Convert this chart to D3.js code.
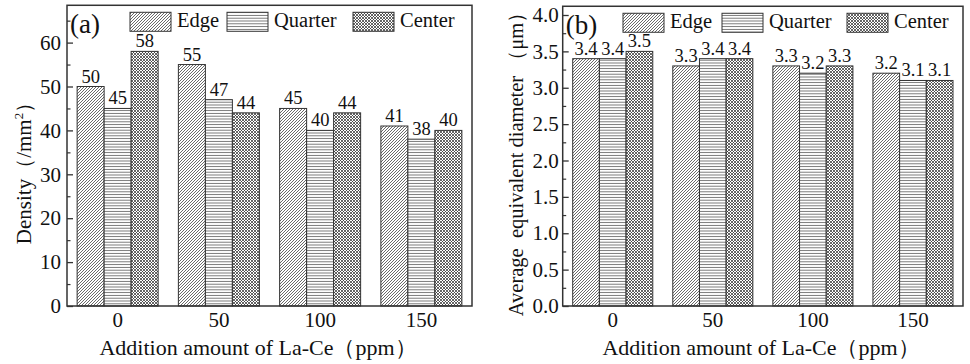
<!DOCTYPE html>
<html><head><meta charset="utf-8">
<script src="https://cdn.jsdelivr.net/npm/d3@7"></script>
<style>
body{margin:0;background:#fff;}
svg{display:block;font-family:"Liberation Serif","Times New Roman",serif;}
</style></head>
<body><svg id="c" width="970" height="364"></svg>
<script>
const categories = ["0","50","100","150"];
const seriesNames = ["Edge","Quarter","Center"];
const densityEdge = [50,55,45,41];
const densityQuarter = [45,47,40,38];
const densityCenter = [58,44,44,40];
const diamEdge = [3.4,3.3,3.3,3.2];
const diamQuarter = [3.4,3.4,3.2,3.1];
const diamCenter = [3.5,3.4,3.3,3.1];
const densityTicks = [0,10,20,30,40,50,60];
const densityMinor = [5,15,25,35,45,55,65];
const diamTicks = [0,0.5,1.0,1.5,2.0,2.5,3.0,3.5,4.0];
const diamMinor = [0.25,0.75,1.25,1.75,2.25,2.75,3.25,3.75];
const densityLabels = ["50","45","58","55","47","44","45","40","44","41","38","40"];
const diamLabels = ["3.4","3.4","3.5","3.3","3.4","3.4","3.3","3.2","3.3","3.2","3.1","3.1"];

const svg = d3.select("#c");
const defs = svg.append("defs");
const pe = defs.append("pattern").attr("id","pEdge").attr("patternUnits","userSpaceOnUse")
  .attr("width",3).attr("height",3);
pe.append("rect").attr("width",3).attr("height",3).attr("fill","#fff");
pe.append("path").attr("d","M-1,1 L1,-1 M0,3 L3,0 M2,4 L4,2").attr("stroke","#444").attr("stroke-width",0.8);
const pq = defs.append("pattern").attr("id","pQuarter").attr("patternUnits","userSpaceOnUse")
  .attr("width",4).attr("height",2.8);
pq.append("rect").attr("width",4).attr("height",2.8).attr("fill","#fff");
pq.append("path").attr("d","M0,1.4 L4,1.4").attr("stroke","#555").attr("stroke-width",0.8);
const pc = defs.append("pattern").attr("id","pCenter").attr("patternUnits","userSpaceOnUse")
  .attr("width",3).attr("height",3);
pc.append("rect").attr("width",3).attr("height",3).attr("fill","#fff");
pc.append("path").attr("d","M-1,1 L1,-1 M0,3 L3,0 M2,4 L4,2 M-1,2 L1,4 M0,0 L3,3 M2,-1 L4,1")
  .attr("stroke","#333").attr("stroke-width",0.75);
const fills = ["url(#pEdge)","url(#pQuarter)","url(#pCenter)"];

function panel(opt){
  const g = svg.append("g");
  const x0 = d3.scaleBand().domain(categories).range([opt.left,opt.right]).paddingInner(0.2).paddingOuter(0.1);
  const x1 = d3.scaleBand().domain(seriesNames).range([0,x0.bandwidth()]);
  const y = d3.scaleLinear().domain([0,opt.refVal]).range([opt.bottom,opt.refY]);
  const top = y(opt.topVal);
  const series = [opt.s0,opt.s1,opt.s2];
  categories.forEach((c,i)=>{
    seriesNames.forEach((s,j)=>{
      const v = series[j][i];
      g.append("rect").attr("x",x0(c)+x1(s)).attr("y",y(v))
        .attr("width",x1.bandwidth()).attr("height",y(0)-y(v))
        .attr("fill",fills[j]).attr("stroke","#333").attr("stroke-width",1);
      g.append("text").attr("x",x0(c)+x1(s)+x1.bandwidth()/2).attr("y",y(v)-4)
        .attr("text-anchor","middle").attr("font-size",18.5).attr("fill","#111")
        .text(opt.labels[i*3+j]);
    });
  });
  g.append("rect").attr("x",opt.left).attr("y",top).attr("width",opt.right-opt.left)
    .attr("height",opt.bottom-top).attr("fill","none").attr("stroke","#333").attr("stroke-width",1.5);
  const ya = g.append("g").attr("transform",`translate(${opt.left},0)`)
    .call(d3.axisLeft(y).tickValues(opt.ticks).tickSize(-6).tickPadding(opt.tickPad).tickFormat(opt.fmt));
  ya.select(".domain").remove();
  ya.selectAll("line").attr("stroke","#333").attr("stroke-width",1.3);
  ya.selectAll("text").attr("font-size",21).attr("font-family","Liberation Serif").attr("fill","#111");
  const ym = g.append("g").attr("transform",`translate(${opt.left},0)`)
    .call(d3.axisLeft(y).tickValues(opt.minor).tickSize(-3.5).tickFormat(""));
  ym.select(".domain").remove();
  ym.selectAll("line").attr("stroke","#333").attr("stroke-width",1.2);
  const xa = g.append("g").attr("transform",`translate(0,${opt.bottom})`)
    .call(d3.axisBottom(x0).tickSize(0).tickPadding(6));
  xa.select(".domain").remove();
  xa.selectAll("text").attr("font-size",21).attr("font-family","Liberation Serif").attr("fill","#111");
  g.append("text").attr("x",opt.xTitleX).attr("y",355).attr("text-anchor","middle")
    .attr("font-size",22).attr("fill","#111").text("Addition amount of La-Ce（ppm）");
  const yt = g.append("text").attr("transform",`translate(${opt.yTitleX},${opt.yTitleY}) rotate(-90)`)
    .attr("text-anchor","middle").attr("font-size",opt.yTitleSize).attr("fill","#111");
  opt.yTitle(yt);
  g.append("text").attr("x",opt.left+3).attr("y",top+28).attr("font-size",27).attr("fill","#111").text(opt.letter);
  seriesNames.forEach((s,j)=>{
    const lx = opt.legX[j];
    g.append("rect").attr("x",lx).attr("y",top+7).attr("width",41).attr("height",19)
      .attr("fill",fills[j]).attr("stroke","#333").attr("stroke-width",1);
    g.append("text").attr("x",lx+47).attr("y",top+22).attr("font-size",20.5).attr("fill","#111").text(s);
  });
}

panel({left:67,right:472,bottom:306,refVal:60,refY:42.6,topVal:68.5,
  s0:densityEdge,s1:densityQuarter,s2:densityCenter,labels:densityLabels,
  ticks:densityTicks,minor:densityMinor,fmt:d3.format("d"),tickPad:6,
  xTitleX:258,yTitleX:31,yTitleY:168,yTitleSize:21,letter:"(a)",
  legX:[130,227,353],
  yTitle:t=>{t.append("tspan").text("Density（/mm");
    t.append("tspan").attr("font-size",13).attr("dy",-8).text("2");
    t.append("tspan").attr("dy",8).text("）");}
});
panel({left:562.7,right:963,bottom:306,refVal:4.0,refY:15,topVal:4.12,
  s0:diamEdge,s1:diamQuarter,s2:diamCenter,labels:diamLabels,
  ticks:diamTicks,minor:diamMinor,fmt:d3.format(".1f"),tickPad:4,
  xTitleX:761,yTitleX:523,yTitleY:159,yTitleSize:20.5,letter:"(b)",
  legX:[623,722,847],
  yTitle:t=>{t.attr("xml:space","preserve").style("white-space","pre").text("Average  equivalent diameter （μm）");}
});
</script></body></html>
